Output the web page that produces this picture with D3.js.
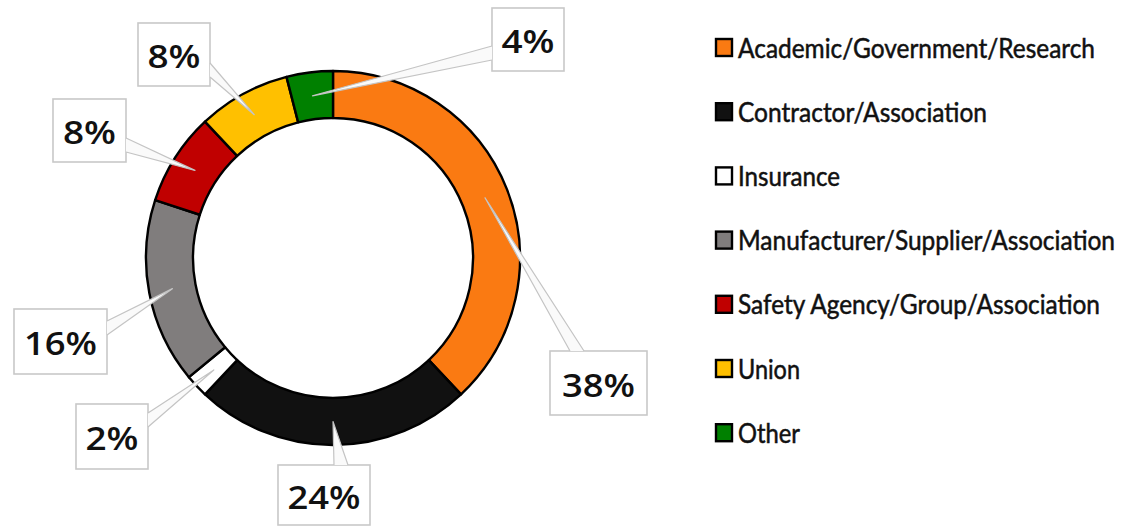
<!DOCTYPE html>
<html><head><meta charset="utf-8">
<script src="https://cdn.jsdelivr.net/npm/d3@7"></script>
<style>html,body{margin:0;padding:0;background:#fff;}svg{display:block;}</style>
</head><body>
<svg id="chart" width="1138" height="528"></svg>
<script>
const categories = ["Academic/Government/Research","Contractor/Association","Insurance","Manufacturer/Supplier/Association","Safety Agency/Group/Association","Union","Other"];
const values = [38, 24, 2, 16, 8, 8, 4];
const labels = ["38%","24%","2%","16%","8%","8%","4%"];
const colors = ["#FA7A12","#111111","#FFFFFF","#807D7D","#C00000","#FFC000","#008000"];

// layout of callout boxes: [x, y, w, h, side, anchor]
const boxLayout = [
  [550,351,97,64,"top",577],
  [278,465,92,60,"top",341],
  [76,404,72,65,"right",420],
  [14,309,93,65,"right",328],
  [53,99,73,63,"right",145],
  [138,23,72,63,"right",70],
  [492,8,72,63,"left",53]
];

const svg = d3.select("#chart");
const cx = 333, cy = 258, rOut = 187, rIn = 140;
const g = svg.append("g").attr("transform", `translate(${cx},${cy})`);
const pie = d3.pie().sort(null).value(d => d);
const arcs = pie(values);
const arc = d3.arc().innerRadius(rIn).outerRadius(rOut);

g.selectAll("path.slice").data(arcs).join("path")
  .attr("class","slice")
  .attr("d", arc)
  .attr("fill", (d,i) => colors[i])
  .attr("stroke", "#000").attr("stroke-width", 2.4).attr("stroke-linejoin","round");

// callouts
const cg = svg.append("g");
arcs.forEach((d,i) => {
  const [bx,by,bw,bh,side,anc] = boxLayout[i];
  const c = arc.centroid(d);
  const tip = [cx + c[0], cy + c[1]];
  const hw = 7;
  let p1, p2;
  if (side === "top") { p1 = [anc-hw, by]; p2 = [anc+hw, by]; }
  else if (side === "right") { p1 = [bx+bw, anc-hw]; p2 = [bx+bw, anc+hw]; }
  else { p1 = [bx, anc-hw]; p2 = [bx, anc+hw]; }
  cg.append("rect").attr("x",bx).attr("y",by).attr("width",bw).attr("height",bh)
    .attr("fill","#fff").attr("stroke","#c8c8c8").attr("stroke-width",1.6);
  cg.append("path").attr("d", d3.line()([p1, tip, p2]) + "Z")
    .attr("fill","#fafafa").attr("stroke","none");
  cg.append("path").attr("d", d3.line()([p1, tip, p2]))
    .attr("fill","none").attr("stroke","#c4c4c4").attr("stroke-width",1.2).attr("stroke-linejoin","round");
  const t = labels[i];
  cg.append("text").attr("x", bx + bw/2).attr("y", by + bh/2 + 1)
    .attr("text-anchor","middle").attr("dominant-baseline","central")
    .attr("font-family","'Open Sans', Lato, sans-serif").attr("font-weight",600)
    .attr("font-size", 32).attr("fill","#111")
    .attr("textLength", t.length === 3 ? 73 : 53).attr("lengthAdjust","spacingAndGlyphs")
    .text(t);
});

// legend
const legendWidths = [357, 249, 102, 377, 362, 62, 62];
const lg = svg.append("g");
categories.forEach((c,i) => {
  const y = 47.5 + i * 64.2;
  lg.append("rect").attr("x",716).attr("y",y-8.5).attr("width",16).attr("height",17)
    .attr("fill",colors[i]).attr("stroke","#000").attr("stroke-width",2.4);
  lg.append("text").attr("x",738).attr("y",y).attr("dominant-baseline","central")
    .attr("font-family","Lato, 'Open Sans', sans-serif").attr("font-size",26)
    .attr("fill","#111").attr("stroke","#111").attr("stroke-width",0.5)
    .attr("textLength", legendWidths[i]).attr("lengthAdjust","spacingAndGlyphs")
    .text(c);
});
</script>
</body></html>
